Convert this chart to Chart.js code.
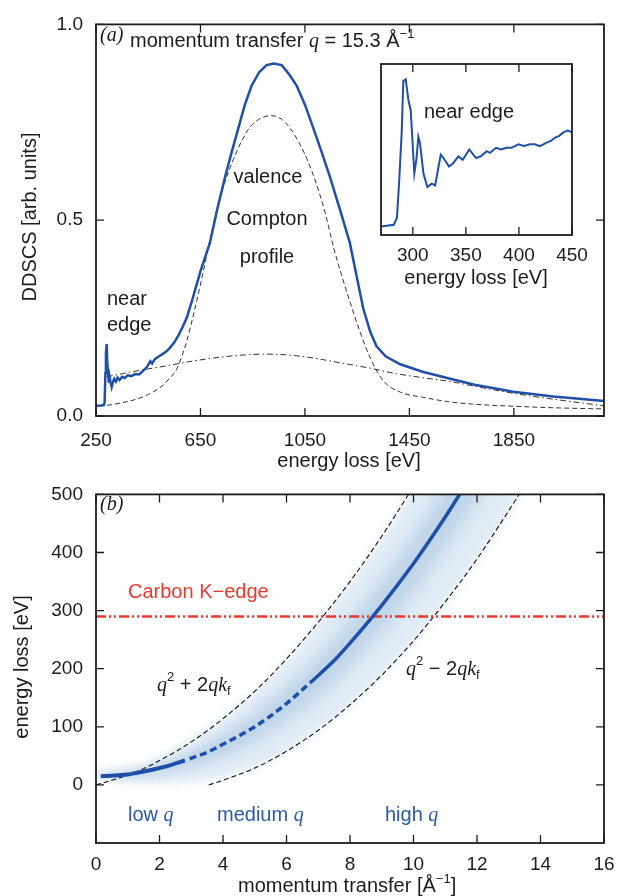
<!DOCTYPE html>
<html>
<head>
<meta charset="utf-8">
<script src="https://cdn.jsdelivr.net/npm/chart.js@4.4.1/dist/chart.umd.min.js"></script>
<style>
  body { margin: 0; background: #fff; width: 626px; height: 896px; position: relative; overflow: hidden; }
  canvas { position: absolute; }
</style>
</head>
<body>
<canvas id="chartA" width="626" height="478" style="left:0;top:0"></canvas>
<canvas id="chartInset" width="260" height="240" style="left:340px;top:50px"></canvas>
<canvas id="chartB" width="626" height="426" style="left:0;top:470px"></canvas>
<script>
// Fonts and colours
const SANS = '"Liberation Sans", Arial, Helvetica, sans-serif';
const SERIF = '"Liberation Serif", "Times New Roman", serif';
const INK = '#1c1c1c';
const BLUE = '#1f4fa8';
const BLUE_TEXT = '#2b5ba8';
const RED = '#e8392e';
const BAND_OUTER = 'rgba(90, 150, 200, 0.19)';
const BAND_MID = 'rgba(80, 140, 195, 0.12)';
const BAND_INNER = 'rgba(70, 130, 190, 0.12)';

// ---- panel (a): DDSCS at q = 15.3 1/A ----
const A_X_TICKS = [250, 650, 1050, 1450, 1850];
const A_Y_TICKS = [0, 0.5, 1.0];

const ddscsEnergy = [250, 270, 280, 283, 286, 288, 291, 293, 296, 299,
  302, 305, 310, 314, 320, 326, 333, 340, 350, 360,
  372, 385, 400, 415, 431, 445, 458, 465, 475, 490,
  505, 520, 533, 550, 565, 580, 597, 620, 650, 686,
  715, 744, 770, 795, 820, 846, 875, 903, 930, 961,
  990, 1018, 1050, 1082, 1115, 1146, 1185, 1222, 1250, 1273,
  1300, 1324, 1360, 1415, 1500, 1606, 1700, 1848, 2000, 2100, 2195];
const ddscsValue = [0.026, 0.027, 0.028, 0.035, 0.11, 0.16, 0.184, 0.14, 0.11, 0.085,
  0.1, 0.088, 0.074, 0.086, 0.095, 0.088, 0.098, 0.092, 0.1, 0.097,
  0.104, 0.102, 0.107, 0.106, 0.116, 0.125, 0.14, 0.134, 0.145, 0.152,
  0.158, 0.165, 0.174, 0.188, 0.205, 0.225, 0.25, 0.30, 0.37, 0.442,
  0.53, 0.61, 0.675, 0.735, 0.795, 0.844, 0.878, 0.896, 0.9, 0.896,
  0.872, 0.844, 0.795, 0.735, 0.672, 0.61, 0.525, 0.442, 0.35, 0.275,
  0.215, 0.178, 0.152, 0.132, 0.113, 0.095, 0.08, 0.062, 0.05, 0.044, 0.038];

const comptonEnergy = [262, 300, 350, 400, 450, 500, 530, 559, 580, 597,
  620, 648, 680, 712, 745, 776, 810, 840, 880, 922,
  960, 993, 1030, 1063, 1095, 1127, 1160, 1197, 1223, 1261,
  1300, 1350, 1415, 1500, 1606, 1700, 1848, 2000, 2195];
const comptonValue = [0.026, 0.028, 0.034, 0.042, 0.055, 0.075, 0.095, 0.12, 0.155, 0.19,
  0.25, 0.33, 0.43, 0.526, 0.6, 0.655, 0.705, 0.738, 0.76, 0.767,
  0.758, 0.735, 0.695, 0.648, 0.59, 0.52, 0.43, 0.345, 0.29, 0.215,
  0.148, 0.09, 0.061, 0.048, 0.036, 0.03, 0.025, 0.021, 0.018];

const coreEnergy = [291, 350, 430, 520, 600, 700, 800, 900, 1000, 1100,
  1200, 1300, 1400, 1500, 1606, 1700, 1848, 2000, 2195];
const coreValue = [0.1, 0.108, 0.118, 0.128, 0.138, 0.148, 0.155, 0.158, 0.155, 0.146,
  0.134, 0.122, 0.108, 0.098, 0.088, 0.076, 0.058, 0.043, 0.026];

// inset: near edge
const INSET_X_TICKS = [300, 350, 400, 450];
const nearEdgeEnergy = [270, 282, 285, 287, 289.5, 291, 293.3, 295.8, 298, 301.4,
  303.5, 305.2, 306.8, 310, 313.7, 317.8, 321, 326.3, 330, 334.1,
  338, 342.9, 347, 353.2, 359.5, 364, 369.6, 372.7, 378.4, 383,
  388.4, 393, 399.4, 405, 410.4, 415, 419.8, 426.1, 430, 434.1,
  438, 441.8, 446, 450];
const nearEdgeValue = [0.049, 0.06, 0.1, 0.3, 0.6, 0.9, 0.91, 0.79, 0.73, 0.36,
  0.45, 0.575, 0.536, 0.36, 0.28, 0.30, 0.29, 0.47, 0.44, 0.40,
  0.42, 0.46, 0.44, 0.50, 0.45, 0.46, 0.49, 0.48, 0.51, 0.50,
  0.51, 0.51, 0.53, 0.52, 0.53, 0.53, 0.52, 0.54, 0.55, 0.57,
  0.58, 0.60, 0.61, 0.60];

// ---- panel (b): energy loss vs momentum transfer ----
const B_X_TICKS = [0, 2, 4, 6, 8, 10, 12, 14, 16];
const B_Y_TICKS = [0, 100, 200, 300, 400, 500];
const CARBON_K_EDGE = 290;

const upperQ = [0, 0.5, 1, 1.5, 2, 2.5, 3, 3.5, 4, 5, 6, 7, 8, 9, 10, 10.5];
const upperE = [0, 8, 17, 28, 42, 57, 74, 93, 114, 161, 217, 280, 350, 428, 514, 560];
const lowerQ = [3.55, 4, 5, 6, 7, 8, 9, 10, 11, 12, 13, 13.5];
const lowerE = [0, 8, 29, 58, 94, 138, 189, 248, 315, 389, 472, 515];

const lowQ = [0.15, 0.6, 1, 1.5, 2, 2.4, 2.8];
const lowE = [15, 16, 18, 23, 29, 35, 42];
const midQ = [2.95, 3.5, 4, 5, 6, 6.75];
const midE = [45, 56, 70, 100, 140, 176];
const highQ = [6.75, 7.5, 8, 9, 10, 11, 11.6];
const highE = [176, 214, 244, 309, 381, 461, 513];

// shaded spread around the dispersion
const bandQ = [0, 0.5, 1, 1.5, 2, 2.5, 3, 3.5, 4, 5, 6, 7, 8, 9, 10, 11, 12, 13, 14];
const outerHi = [25, 27, 31, 37, 47, 61, 77, 95, 115, 162, 216, 278, 348, 425, 510, 600, 700, 810, 920];
const outerLo = [9, 7, 4, 2, 2, 3, 5, 8, 13, 30, 58, 93, 136, 188, 248, 314, 388, 470, 558];
const midHi = [20, 21, 24, 30, 38, 49, 61, 76, 93, 131, 178, 233, 296, 367, 446, 531, 625, 727, 834];
const midLo = [12, 12, 12, 13, 16, 21, 26, 33, 42, 66, 100, 141, 191, 250, 316, 389, 470, 558, 654];
const innerHi = [18, 19, 22, 27, 34, 44, 55, 67, 82, 117, 160, 211, 271, 339, 414, 497, 588, 687, 791];
const innerLo = [14, 14, 15, 18, 22, 28, 35, 43, 55, 82, 119, 163, 217, 278, 347, 424, 508, 600, 699];

function pts(xs, ys) {
  return xs.map((x, i) => ({ x: x, y: ys[i] }));
}

// draw text pieces one after the other: [text, font, dy]
function drawRich(ctx, x, y, parts, color) {
  ctx.fillStyle = color;
  ctx.textAlign = 'left';
  ctx.textBaseline = 'alphabetic';
  parts.forEach(([text, font, dy = 0]) => {
    ctx.font = font;
    ctx.fillText(text, x, y + dy);
    x += ctx.measureText(text).width;
  });
}

function drawRotated(ctx, text, cx, cy, font) {
  ctx.save();
  ctx.translate(cx, cy);
  ctx.rotate(-Math.PI / 2);
  ctx.font = font;
  ctx.fillStyle = INK;
  ctx.textAlign = 'center';
  ctx.textBaseline = 'middle';
  ctx.fillText(text, 0, 0);
  ctx.restore();
}

const S20 = '20px ' + SANS;
const S13 = '13px ' + SANS;
const I20 = 'italic 20px ' + SERIF;

// frame with inward ticks on all four sides
const framePlugin = {
  id: 'frame',
  afterDatasetsDraw(chart, args, opts) {
    const { ctx, chartArea: a, scales } = chart;
    const len = 8;
    ctx.save();
    ctx.setLineDash([]);
    ctx.strokeStyle = INK;
    ctx.lineWidth = 1.3;
    ctx.beginPath();
    (opts.xTicks || []).forEach(v => {
      const px = scales.x.getPixelForValue(v);
      ctx.moveTo(px, a.bottom); ctx.lineTo(px, a.bottom - len);
      ctx.moveTo(px, a.top); ctx.lineTo(px, a.top + len);
    });
    (opts.yTicks || []).forEach(v => {
      const py = scales.y.getPixelForValue(v);
      ctx.moveTo(a.left, py); ctx.lineTo(a.left + len, py);
      ctx.moveTo(a.right, py); ctx.lineTo(a.right - len, py);
    });
    ctx.stroke();
    ctx.lineWidth = 1.8;
    ctx.strokeRect(a.left, a.top, a.right - a.left, a.bottom - a.top);
    ctx.restore();
  }
};

// soften the band fills: datasets are drawn last index first, so the
// band datasets (index 6..11) come before every line; blur only those
const LAST_BAND_INDEX = 6;
const softBand = {
  id: 'softBand',
  beforeDatasetsDraw(chart) { chart.ctx.filter = 'blur(5px)'; },
  afterDatasetDraw(chart, args) {
    if (args.index === LAST_BAND_INDEX) chart.ctx.filter = 'none';
  },
  afterDatasetsDraw(chart) { chart.ctx.filter = 'none'; }
};

function tickFont() {
  return { family: SANS, size: 19 };
}

function baseOptions() {
  return {
    responsive: false,
    animation: false,
    events: [],
    elements: { point: { radius: 0 }, line: { tension: 0, fill: false } },
    plugins: { legend: { display: false }, tooltip: { enabled: false } }
  };
}

// ---- chart (a) ----
const textA = {
  id: 'textA',
  afterDraw(chart) {
    const ctx = chart.ctx;
    ctx.save();
    drawRich(ctx, 100, 41, [['(a)', I20]], INK);
    drawRich(ctx, 130, 47, [['momentum transfer ', S20], ['q', I20], [' = 15.3 Å', S20], ['−1', S13, -9]], INK);
    ctx.font = S20;
    ctx.textAlign = 'center';
    ctx.fillStyle = INK;
    ctx.fillText('valence', 268, 183);
    ctx.fillText('Compton', 267, 225);
    ctx.fillText('profile', 267, 263);
    ctx.textAlign = 'left';
    ctx.fillText('near', 107, 305);
    ctx.fillText('edge', 107, 331);
    ctx.textAlign = 'center';
    ctx.fillText('energy loss [eV]', 349, 467);
    drawRotated(ctx, 'DDSCS [arb. units]', 30, 217, S20);
    ctx.restore();
  }
};

const optsA = baseOptions();
optsA.layout = { padding: { left: 0, right: 22, top: 18, bottom: 0 } };
optsA.plugins.frame = { xTicks: A_X_TICKS, yTicks: A_Y_TICKS };
optsA.scales = {
  x: {
    type: 'linear', min: 250, max: 2195,
    afterFit: s => { s.height = 62; },
    afterBuildTicks: s => { s.ticks = A_X_TICKS.map(v => ({ value: v })); },
    grid: { display: false, drawTicks: false },
    border: { display: false },
    ticks: { font: tickFont(), color: INK, padding: 13, maxRotation: 0, autoSkip: false, callback: v => String(v) }
  },
  y: {
    min: 0, max: 1,
    afterFit: s => { s.width = 96; },
    afterBuildTicks: s => { s.ticks = A_Y_TICKS.map(v => ({ value: v })); },
    grid: { display: false, drawTicks: false },
    border: { display: false },
    ticks: { font: tickFont(), color: INK, padding: 13, callback: v => v.toFixed(1) }
  }
};

new Chart(document.getElementById('chartA'), {
  type: 'line',
  data: {
    datasets: [
      { data: pts(ddscsEnergy, ddscsValue), borderColor: BLUE, borderWidth: 2.5 },
      { data: pts(comptonEnergy, comptonValue), borderColor: '#333', borderWidth: 1, borderDash: [5, 3], cubicInterpolationMode: 'monotone' },
      { data: pts(coreEnergy, coreValue), borderColor: '#333', borderWidth: 1, borderDash: [6, 3, 1.5, 3], cubicInterpolationMode: 'monotone' }
    ]
  },
  options: optsA,
  plugins: [framePlugin, textA]
});

// ---- inset ----
const textInset = {
  id: 'textInset',
  afterDraw(chart) {
    const ctx = chart.ctx;
    ctx.save();
    ctx.font = S20;
    ctx.fillStyle = INK;
    ctx.textAlign = 'left';
    ctx.fillText('near edge', 424 - 340, 118 - 50);
    ctx.textAlign = 'center';
    ctx.fillText('energy loss [eV]', 476 - 340, 284 - 50);
    ctx.restore();
  }
};

const optsInset = baseOptions();
optsInset.layout = { padding: { left: 41, right: 28, top: 14, bottom: 0 } };
optsInset.plugins.frame = { xTicks: INSET_X_TICKS };
optsInset.scales = {
  x: {
    type: 'linear', min: 270, max: 450,
    afterFit: s => { s.height = 55; },
    afterBuildTicks: s => { s.ticks = INSET_X_TICKS.map(v => ({ value: v })); },
    grid: { display: false, drawTicks: false },
    border: { display: false },
    ticks: { font: tickFont(), color: INK, padding: 9, maxRotation: 0, autoSkip: false, callback: v => String(v) }
  },
  y: { min: 0, max: 1, display: false }
};

new Chart(document.getElementById('chartInset'), {
  type: 'line',
  data: { datasets: [{ data: pts(nearEdgeEnergy, nearEdgeValue), borderColor: BLUE, borderWidth: 2 }] },
  options: optsInset,
  plugins: [framePlugin, textInset]
});

// ---- chart (b) ----
const textB = {
  id: 'textB',
  afterDraw(chart) {
    const ctx = chart.ctx;
    ctx.save();
    ctx.translate(0, -470);
    drawRich(ctx, 100, 510, [['(b)', I20]], INK);
    drawRich(ctx, 128, 598, [['Carbon K−edge', S20]], RED);
    drawRich(ctx, 157, 691, [['q', I20], ['2', S13, -10], [' + 2', S20], ['qk', I20], ['f', S13, 4]], INK);
    drawRich(ctx, 406, 675, [['q', I20], ['2', S13, -10], [' − 2', S20], ['qk', I20], ['f', S13, 4]], INK);
    drawRich(ctx, 128, 821, [['low ', S20], ['q', I20]], BLUE_TEXT);
    drawRich(ctx, 217, 821, [['medium ', S20], ['q', I20]], BLUE_TEXT);
    drawRich(ctx, 385, 821, [['high ', S20], ['q', I20]], BLUE_TEXT);
    drawRich(ctx, 238, 892, [['momentum transfer [Å', S20], ['−1', S13, -9], [']', S20]], INK);
    drawRotated(ctx, 'energy loss [eV]', 22, 667, S20);
    ctx.restore();
  }
};

const optsB = baseOptions();
optsB.layout = { padding: { left: 0, right: 22, top: 21, bottom: 0 } };
optsB.plugins.frame = { xTicks: B_X_TICKS, yTicks: B_Y_TICKS };
optsB.scales = {
  x: {
    type: 'linear', min: 0, max: 16,
    afterFit: s => { s.height = 53; },
    afterBuildTicks: s => { s.ticks = B_X_TICKS.map(v => ({ value: v })); },
    grid: { display: false, drawTicks: false },
    border: { display: false },
    ticks: { font: tickFont(), color: INK, padding: 10, maxRotation: 0, autoSkip: false, callback: v => String(v) }
  },
  y: {
    min: -100, max: 500,
    afterFit: s => { s.width = 96; },
    afterBuildTicks: s => { s.ticks = B_Y_TICKS.map(v => ({ value: v })); },
    grid: { display: false, drawTicks: false },
    border: { display: false },
    ticks: { font: tickFont(), color: INK, padding: 13, callback: v => String(v) }
  }
};

const smooth = { cubicInterpolationMode: 'monotone', pointRadius: 0 };
const bandEdge = Object.assign({ borderWidth: 0, borderColor: 'rgba(0,0,0,0)' }, smooth);

new Chart(document.getElementById('chartB'), {
  type: 'line',
  data: {
    datasets: [
      Object.assign({ data: pts(highQ, highE), borderColor: BLUE, borderWidth: 3.5 }, smooth),
      Object.assign({ data: pts(midQ, midE), borderColor: BLUE, borderWidth: 3.5, borderDash: [7, 4] }, smooth),
      Object.assign({ data: pts(lowQ, lowE), borderColor: BLUE, borderWidth: 4 }, smooth),
      { data: pts([0, 16], [CARBON_K_EDGE, CARBON_K_EDGE]), borderColor: RED, borderWidth: 2.5, borderDash: [10, 3, 2, 3, 2, 3] },
      Object.assign({ data: pts(upperQ, upperE), borderColor: '#111', borderWidth: 1.1, borderDash: [5, 3] }, smooth),
      Object.assign({ data: pts(lowerQ, lowerE), borderColor: '#111', borderWidth: 1.1, borderDash: [5, 3] }, smooth),
      Object.assign({ data: pts(bandQ, outerHi) }, bandEdge),
      Object.assign({ data: pts(bandQ, outerLo), fill: '-1', backgroundColor: BAND_OUTER }, bandEdge),
      Object.assign({ data: pts(bandQ, midHi) }, bandEdge),
      Object.assign({ data: pts(bandQ, midLo), fill: '-1', backgroundColor: BAND_MID }, bandEdge),
      Object.assign({ data: pts(bandQ, innerHi) }, bandEdge),
      Object.assign({ data: pts(bandQ, innerLo), fill: '-1', backgroundColor: BAND_INNER }, bandEdge)
    ]
  },
  options: optsB,
  plugins: [softBand, framePlugin, textB]
});
</script>
</body>
</html>
